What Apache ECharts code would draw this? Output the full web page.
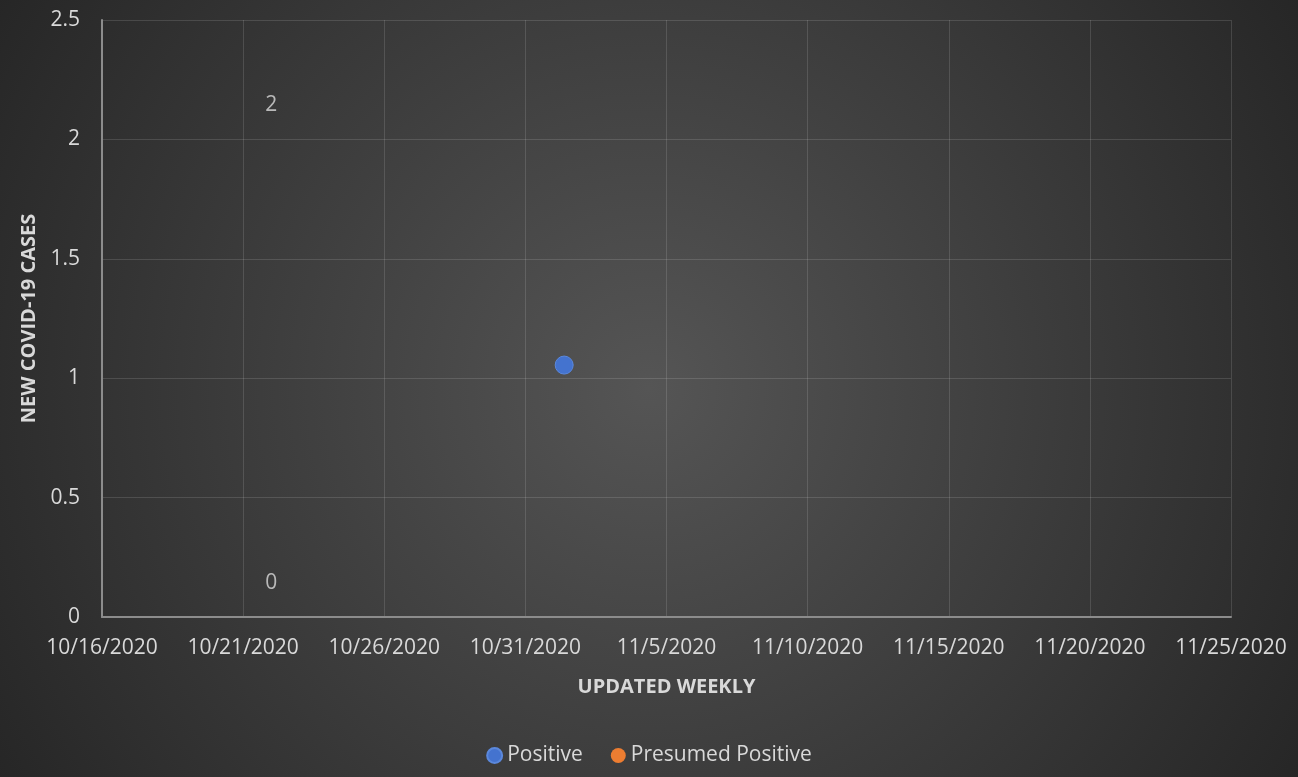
<!DOCTYPE html>
<html>
<head>
<meta charset="utf-8">
<script src="https://cdn.jsdelivr.net/npm/echarts@6/dist/echarts.min.js"></script>
<style>html,body{margin:0;padding:0;}#c{width:1298px;height:777px;}</style>
</head>
<body>
<div id="c"></div>
<script>
const startDate = '2020-10-16';
const endDate = '2020-11-25';
const positiveDates = ['2020-11-01T09:00'];
const positiveValues = [1.055];
const presumedDates = [];
const presumedValues = [];
const labelDates = ['2020-10-22', '2020-10-22'];
const labelValues = [2, 0];
const yTicks = [0, 0.5, 1, 1.5, 2, 2.5];

const DAY = 86400000;
function toMs(s){ const p = s.split('T'); const d = p[0].split('-').map(Number); let ms = Date.UTC(d[0], d[1]-1, d[2]); if (p[1]) { const t = p[1].split(':').map(Number); ms += (t[0]*60 + t[1]) * 60000; } return ms; }
const base = toMs(startDate);
const dayOf = s => (toMs(s) - base) / DAY;
function fmt(v){ const d = new Date(base + v*DAY); return (d.getUTCMonth()+1) + '/' + d.getUTCDate() + '/' + d.getUTCFullYear(); }

const font = 'Open Sans';
const chart = echarts.init(document.getElementById('c'));
chart.setOption({
  backgroundColor: { type: 'radial', x: 0.5, y: 0.5, r: 1.0, colorStops: [ {offset:0, color:'#555555'}, {offset:1, color:'#252525'} ] },
  textStyle: { fontFamily: font },
  grid: { left: 102, right: 67, top: 20, bottom: 160 },
  legend: {
    bottom: 6, left: 'center', icon: 'circle', itemWidth: 15, itemHeight: 15, itemGap: 28,
    textStyle: { color: '#d9d9d9', fontSize: 21, fontFamily: font },
    data: ['Positive', 'Presumed Positive']
  },
  xAxis: {
    type: 'value', min: 0, max: dayOf(endDate), interval: 5,
    name: 'UPDATED WEEKLY', nameLocation: 'middle', nameGap: 60,
    nameTextStyle: { color: '#d9d9d9', fontSize: 20, fontWeight: 'bold' },
    axisLine: { show: true, lineStyle: { color: '#8c8c8c', width: 2 } },
    axisTick: { show: false },
    axisLabel: { color: '#d9d9d9', fontSize: 21, margin: 21, formatter: fmt },
    splitLine: { show: true, lineStyle: { color: 'rgba(255,255,255,0.13)', width: 1 } }
  },
  yAxis: {
    type: 'value', min: yTicks[0], max: yTicks[yTicks.length-1], interval: 0.5,
    name: 'NEW COVID-19 CASES', nameLocation: 'middle', nameGap: 62,
    nameTextStyle: { color: '#d9d9d9', fontSize: 20, fontWeight: 'bold' },
    axisLine: { show: true, lineStyle: { color: '#8c8c8c', width: 2 } },
    axisTick: { show: false },
    axisLabel: { color: '#d9d9d9', fontSize: 21, margin: 22 },
    splitLine: { show: true, lineStyle: { color: 'rgba(255,255,255,0.13)', width: 1 } }
  },
  series: [
    { name: 'Positive', type: 'scatter', symbolSize: 18, color: '#4472C4',
      itemStyle: { color: '#4473CF', borderColor: '#5b88dc', borderWidth: 1, opacity: 1 },
      data: positiveDates.map((d,i) => [dayOf(d), positiveValues[i]]) },
    { name: 'Presumed Positive', type: 'scatter', symbolSize: 18, color: '#ED7D31',
      itemStyle: { color: '#ED7D31', opacity: 1 },
      data: presumedDates.map((d,i) => [dayOf(d), presumedValues[i]]) },
    { name: 'labels', type: 'scatter', symbolSize: 0, silent: true,
      label: { show: true, position: 'inside', offset: [0, -34], color: '#d9d9d9', fontSize: 21, formatter: p => p.value[1] },
      data: labelDates.map((d,i) => [dayOf(d), labelValues[i]]) }
  ]
});
</script>
</body>
</html>
